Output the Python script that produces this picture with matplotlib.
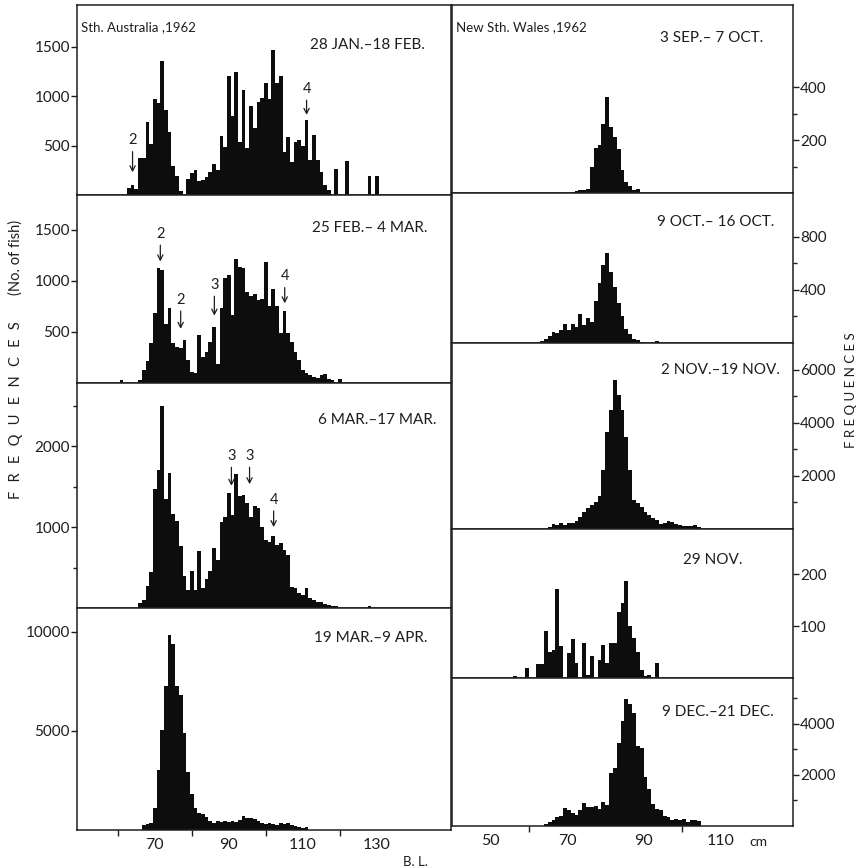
import numpy as np
import matplotlib
matplotlib.use("Agg")
import matplotlib.pyplot as plt

plt.rcParams['font.family'] = ['Lato', 'DejaVu Sans']

# ---------------- data (body length in cm, 1-cm classes) ----------------
# South Australia 1962 (left column), first class (centre, cm) and counts
p1_title = "28 JAN.\u201318 FEB."
p1_start = 63
p1_counts = [70, 100, 60, 370, 370, 740, 520, 970, 930, 1350, 860, 640, 290, 190, 40,
             0, 160, 220, 250, 140, 150, 185, 235, 315, 250, 600, 490,
             1200, 800, 1245, 540, 1060, 470, 900, 680, 940, 980, 1130, 970, 1465, 1130,
             1200, 430, 590, 330, 540, 560, 500, 760, 350, 610, 350, 230, 100, 50, 0,
             260, 0, 0, 340, 0, 0, 0, 0, 0, 190, 0, 190]

p2_title = "25 FEB.\u2013 4 MAR."
p2_start = 61
p2_counts = [30, 0, 0, 0, 0, 30, 125, 215, 395, 690, 1130, 1110, 580, 730, 390, 355, 340,
             420, 225, 110, 100, 470, 255, 305, 400, 550, 190, 730, 1030, 1060, 665, 1210,
             1140, 1125, 895, 850, 870, 815, 820, 1180, 750, 920, 750, 485, 700, 490, 400,
             305, 225, 125, 100, 75, 60, 50, 75, 85, 40, 30, 0, 40]

p3_title = "6 MAR.\u201317 MAR."
p3_start = 66
p3_counts = [60, 100, 270, 450, 1475, 1710, 2490, 1345, 1670, 1160, 1080, 760, 390, 225,
             460, 225, 700, 245, 355, 460, 745, 595, 1065, 1125, 1415, 1150, 1660, 1380,
             1395, 1300, 1125, 1260, 1230, 1005, 840, 820, 890, 780, 800, 720, 655, 265,
             245, 185, 165, 245, 125, 100, 70, 70, 55, 40, 30, 30, 0, 0, 0, 0, 0, 0, 0, 0, 30]

p4_title = "19 MAR.\u20139 APR."
p4_start = 67
p4_counts = [250, 300, 370, 1100, 3030, 5020, 7280, 9860, 9360, 7280, 6790, 4890, 2950,
             1820, 1100, 840, 810, 640, 470, 370, 470, 420, 470, 420, 470, 420, 505, 710,
             590, 590, 540, 470, 370, 300, 370, 300, 250, 340, 290, 340, 250, 200, 135, 85, 170]

# New South Wales 1962 (right column), first class lower edge (cm) and counts
r1_title = "3 SEP.\u2013 7 OCT."
r1_start = 71
r1_counts = [5, 8, 12, 10, 15, 97, 170, 182, 262, 362, 250, 212, 166, 85, 41, 25, 12, 15]

r2_title = "9 OCT.\u2013 16 OCT."
r2_start = 63
r2_counts = [15, 32, 50, 82, 75, 95, 140, 100, 145, 120, 220, 132, 190, 158, 320, 450, 590,
             675, 532, 420, 300, 200, 108, 65, 32, 20, 8, 0, 0, 0, 15]

r3_title = "2 NOV.\u201319 NOV."
r3_start = 65
r3_counts = [90, 190, 150, 240, 150, 220, 240, 315, 465, 650, 780, 900, 1030, 1250, 2230,
             3660, 4490, 5620, 5060, 4490, 3470, 2230, 1100, 970, 820, 650, 530, 400, 340,
             190, 240, 290, 270, 190, 150, 125, 100, 125, 150, 60]

r4_title = "29 NOV."
r4_start = 53
r4_counts = [2, 0, 0, 3, 0, 0, 20, 0, 0, 27, 27, 91, 51, 54, 171, 62, 0, 48, 75, 28, 0, 67,
             5, 42, 0, 34, 64, 28, 67, 67, 128, 145, 187, 100, 78, 50, 15, 3, 5, 0, 28]

r5_title = "9 DEC.\u201321 DEC."
r5_start = 64
r5_counts = [65, 155, 245, 350, 375, 710, 630, 500, 450, 630, 890, 760, 735, 800, 670, 930,
             825, 2090, 2260, 3250, 4115, 4970, 4800, 4410, 3120, 3060, 1920, 1445, 865, 670,
             610, 410, 350, 245, 285, 220, 285, 155, 245, 220, 195]

left_xticks = [70, 90, 110, 130]
right_xticks = [50, 70, 90, 110]

# ---------------- layout ----------------
W, H = 860, 868
fig = plt.figure(figsize=(W / 100, H / 100), dpi=100)
fig.patch.set_facecolor('white')
INK = '#1e1e1e'

def add_ax(x0, x1, ytop, ybot):
    return fig.add_axes([x0 / W, 1 - ybot / H, (x1 - x0) / W, (ybot - ytop) / H])

BAR = '#0d0d0d'
LW = 1.1

def style(ax, xlim, ylim, right=False):
    ax.set_xlim(*xlim)
    ax.set_ylim(*ylim)
    for s in ax.spines.values():
        s.set_linewidth(LW)
        s.set_color(INK)
    ax.set_xticks([])
    if right:
        ax.yaxis.tick_right()
    ax.tick_params(axis='y', which='major', length=4, width=1, labelsize=11, pad=1,
                   colors=INK, direction='out')
    ax.tick_params(axis='y', which='minor', length=3, width=1, direction='out', colors=INK)

left_x = (49, 150)
right_x = (40, 129)

def left_bars(ax, start, counts):
    x = start + np.arange(len(counts))
    ax.bar(x, counts, width=1.0, align='center', color=BAR, linewidth=0)

def right_bars(ax, start, counts):
    x = start + np.arange(len(counts))
    ax.bar(x, counts, width=1.0, align='edge', color=BAR, linewidth=0)

arrow_kw = dict(arrowstyle='->,head_length=0.35,head_width=0.18', lw=0.9, color=INK,
                shrinkA=1, shrinkB=0)

def mark(ax, label, x, ytext, ytip):
    ax.annotate(label, xy=(x, ytip), xytext=(x, ytext), ha='center', va='bottom',
                fontsize=10.5, color=INK, arrowprops=arrow_kw)

TFS = 11   # panel date labels

# ----- left column -----
L0, L1 = 77, 451
a1 = add_ax(L0, L1, 5, 195)
left_bars(a1, p1_start, p1_counts)
style(a1, left_x, (0, 1920))
a1.set_yticks([500, 1000, 1500])
a1.text(0.01, 0.884, "Sth. Australia ,1962", transform=a1.transAxes, fontsize=9.5,
        ha='left', va='center', color=INK)
a1.text(0.93, 0.79, p1_title, transform=a1.transAxes, fontsize=TFS, ha='right', va='center',
        color=INK)
mark(a1, '2', 64, 480, 230)
mark(a1, '4', 111, 1000, 810)

a2 = add_ax(L0, L1, 195, 383)
left_bars(a2, p2_start, p2_counts)
style(a2, left_x, (0, 1840))
a2.set_yticks([500, 1000, 1500])
a2.text(0.938, 0.824, p2_title, transform=a2.transAxes, fontsize=TFS, ha='right', va='center',
        color=INK)
mark(a2, '2', 71.5, 1390, 1190)
mark(a2, '2', 77, 745, 530)
mark(a2, '3', 86.1, 890, 660)
mark(a2, '4', 105.1, 975, 780)

a3 = add_ax(L0, L1, 383, 608)
left_bars(a3, p3_start, p3_counts)
style(a3, left_x, (0, 2780))
a3.set_yticks([1000, 2000])
a3.set_yticks([500, 1500, 2500], minor=True)
a3.text(0.96, 0.836, p3_title, transform=a3.transAxes, fontsize=TFS, ha='right', va='center',
        color=INK)
mark(a3, '3', 90.7, 1790, 1510)
mark(a3, '3', 95.6, 1790, 1530)
mark(a3, '4', 102.1, 1250, 1000)

a4 = add_ax(L0, L1, 608, 830)
left_bars(a4, p4_start, p4_counts)
style(a4, left_x, (0, 11200))
a4.set_yticks([5000, 10000])
a4.text(0.938, 0.865, p4_title, transform=a4.transAxes, fontsize=TFS, ha='right', va='center',
        color=INK)
a4.set_xticks(left_xticks)
a4.set_xticks([60, 80, 100, 120], minor=True)
a4.tick_params(axis='x', which='major', length=0, labelsize=11.5, pad=6, colors=INK)
a4.tick_params(axis='x', which='minor', length=4, width=1, colors=INK)
a4.text(0.905, -0.145, "B. L.", transform=a4.transAxes, fontsize=9.5, ha='center',
        va='center', color=INK)

# ----- right column -----
R0, R1 = 452, 793
b1 = add_ax(R0, R1, 5, 193)
right_bars(b1, r1_start, r1_counts)
style(b1, right_x, (0, 710), right=True)
b1.set_yticks([200, 400])
b1.set_yticks([100, 300], minor=True)
b1.text(0.013, 0.88, "New Sth. Wales ,1962", transform=b1.transAxes, fontsize=9.5,
        ha='left', va='center', color=INK)
b1.text(0.76, 0.824, r1_title, transform=b1.transAxes, fontsize=TFS, ha='center',
        va='center', color=INK)

b2 = add_ax(R0, R1, 193, 343)
right_bars(b2, r2_start, r2_counts)
style(b2, right_x, (0, 1130), right=True)
b2.set_yticks([400, 800])
b2.set_yticks([200, 600], minor=True)
b2.text(0.774, 0.807, r2_title, transform=b2.transAxes, fontsize=TFS, ha='center',
        va='center', color=INK)

b3 = add_ax(R0, R1, 343, 529)
right_bars(b3, r3_start, r3_counts)
style(b3, right_x, (0, 7000), right=True)
b3.set_yticks([2000, 4000, 6000])
b3.set_yticks([1000, 3000, 5000], minor=True)
b3.text(0.786, 0.855, r3_title, transform=b3.transAxes, fontsize=TFS, ha='center',
        va='center', color=INK)

b4 = add_ax(R0, R1, 529, 678)
right_bars(b4, r4_start, r4_counts)
style(b4, right_x, (0, 287), right=True)
b4.set_yticks([100, 200])
b4.text(0.765, 0.79, r4_title, transform=b4.transAxes, fontsize=TFS, ha='center',
        va='center', color=INK)

b5 = add_ax(R0, R1, 678, 826)
right_bars(b5, r5_start, r5_counts)
style(b5, right_x, (0, 5800), right=True)
b5.set_yticks([2000, 4000])
b5.set_yticks([1000, 3000, 5000], minor=True)
b5.text(0.78, 0.77, r5_title, transform=b5.transAxes, fontsize=TFS, ha='center',
        va='center', color=INK)
b5.set_xticks(right_xticks)
b5.set_xticks([60, 100], minor=True)
b5.tick_params(axis='x', which='major', length=0, labelsize=11.5, pad=6, colors=INK)
b5.tick_params(axis='x', which='minor', length=4, width=1, colors=INK)
fig.text(758 / W, 1 - 842 / H, "cm", fontsize=10, ha='center', va='center', color=INK)

# axis titles
SP = "\u2002\u2009"
fig.text(16 / W, 1 - 410 / H, SP.join("FREQUENCES"), rotation=90, fontsize=10.5,
         ha='center', va='center', color=INK)
fig.text(16 / W, 1 - 257 / H, "(No. of fish)", rotation=90, fontsize=10.5,
         ha='center', va='center', color=INK)
fig.text(851 / W, 1 - 390 / H, " ".join("FREQUENCES"), rotation=90, fontsize=9.5,
         ha='center', va='center', color=INK)

fig.savefig("out.png", dpi=100, facecolor='white')
